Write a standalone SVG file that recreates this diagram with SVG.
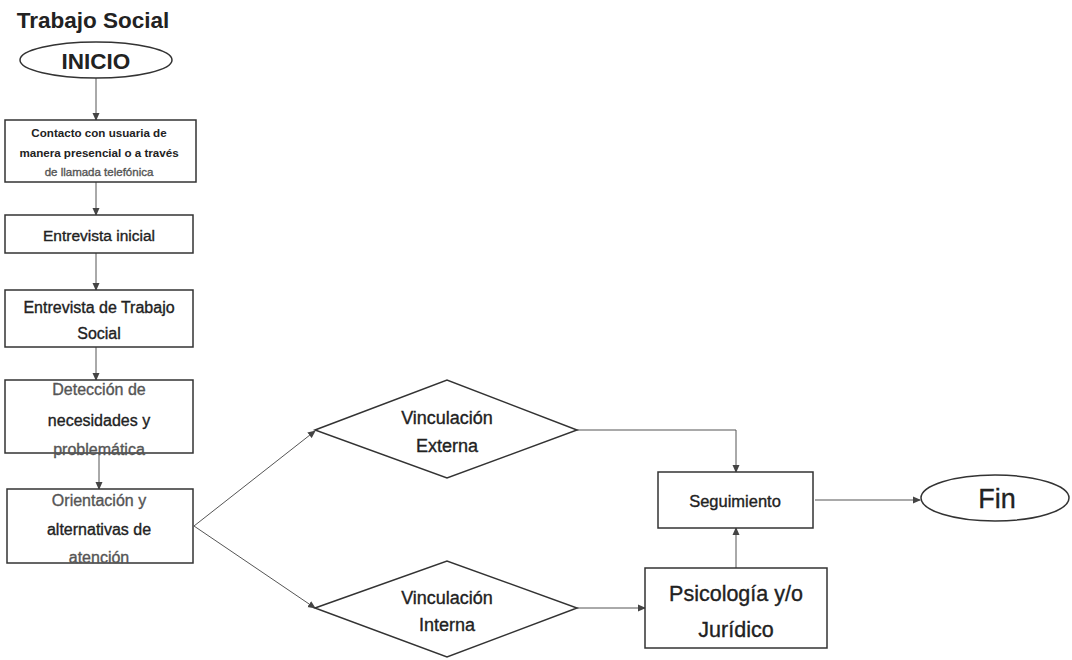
<svg xmlns="http://www.w3.org/2000/svg" width="1072" height="660" viewBox="0 0 1072 660">
<style>
.box{fill:#fff;stroke:#333;stroke-width:1.5}
.t{font-family:"Liberation Sans",Arial,sans-serif;fill:#222;text-anchor:middle;stroke:#222;stroke-width:0.35}
.b{font-weight:bold;stroke-width:0}
.g{fill:#555;stroke:#555}
.c{fill:none;stroke:#555;stroke-width:1}
</style>
<defs>
<marker id="ah" markerWidth="8" markerHeight="8" refX="7" refY="4" orient="auto" markerUnits="userSpaceOnUse">
<path d="M0,0.5 L8,4 L0,7.5 Z" fill="#444"/>
</marker>
</defs>
<rect width="1072" height="660" fill="#fff"/>
<text class="t b" x="93" y="28" font-size="22.5">Trabajo Social</text>
<g id="connectors">
<line class="c" x1="96" y1="78" x2="96" y2="120" marker-end="url(#ah)"/>
<line class="c" x1="96" y1="182" x2="96" y2="215" marker-end="url(#ah)"/>
<line class="c" x1="96" y1="253" x2="96" y2="290" marker-end="url(#ah)"/>
<line class="c" x1="96" y1="347" x2="96" y2="380" marker-end="url(#ah)"/>
<line class="c" x1="99" y1="453" x2="99" y2="489" marker-end="url(#ah)"/>
<line class="c" x1="194" y1="526" x2="315" y2="431" marker-end="url(#ah)"/>
<line class="c" x1="194" y1="526" x2="315" y2="608" marker-end="url(#ah)"/>
<polyline class="c" points="577,430 736,430 736,472" marker-end="url(#ah)"/>
<line class="c" x1="577" y1="608" x2="645" y2="608" marker-end="url(#ah)"/>
<line class="c" x1="736" y1="568" x2="736" y2="528" marker-end="url(#ah)"/>
<line class="c" x1="815" y1="500" x2="920" y2="500" marker-end="url(#ah)"/>
</g>
<g id="inicio">
<ellipse class="box" cx="96" cy="60" rx="76" ry="18"/>
<text class="t b" x="96" y="69" font-size="22.5">INICIO</text>
</g>
<g id="contacto">
<rect class="box" x="5" y="120" width="191" height="62"/>
<text class="t b" x="99" y="137" font-size="11.6">Contacto con usuaria  de</text>
<text class="t b" x="99" y="157" font-size="11.6">manera presencial o a través</text>
<text class="t g" x="99" y="176" font-size="11.5">de llamada telefónica</text>
</g>
<g id="entrevista-inicial">
<rect class="box" x="5" y="215" width="188" height="38"/>
<text class="t" x="99" y="241" font-size="15.5">Entrevista inicial</text>
</g>
<g id="entrevista-ts">
<rect class="box" x="5" y="290" width="188" height="57"/>
<text class="t" x="99" y="313" font-size="16">Entrevista de Trabajo</text>
<text class="t" x="99" y="339" font-size="16">Social</text>
</g>
<g id="deteccion">
<rect class="box" x="5" y="380" width="188" height="73"/>
<text class="t g" x="99" y="395" font-size="16">Detección de</text>
<text class="t" x="99" y="426" font-size="16">necesidades y</text>
<text class="t g" x="99" y="455" font-size="16">problemática</text>
</g>
<g id="orientacion">
<rect class="box" x="7" y="489" width="186" height="74"/>
<text class="t g" x="99" y="506" font-size="16">Orientación y</text>
<text class="t" x="99" y="535" font-size="16">alternativas de</text>
<text class="t g" x="99" y="563" font-size="16">atención</text>
</g>
<g id="vinc-externa">
<polygon class="box" points="315,430 447,380 577,430 447,478"/>
<text class="t" x="447" y="424" font-size="18">Vinculación</text>
<text class="t" x="447" y="452" font-size="18">Externa</text>
</g>
<g id="vinc-interna">
<polygon class="box" points="315,608 447,561 577,608 447,657"/>
<text class="t" x="447" y="604" font-size="18">Vinculación</text>
<text class="t" x="447" y="631" font-size="18">Interna</text>
</g>
<g id="seguimiento">
<rect class="box" x="658" y="472" width="155" height="56"/>
<text class="t" x="735" y="507" font-size="16.5">Seguimiento</text>
</g>
<g id="psicologia">
<rect class="box" x="645" y="568" width="182" height="80"/>
<text class="t" x="736" y="601" font-size="21.5">Psicología y/o</text>
<text class="t" x="736" y="637" font-size="21.5">Jurídico</text>
</g>
<g id="fin">
<ellipse class="box" cx="995" cy="498" rx="74" ry="23"/>
<text class="t" x="997" y="508" font-size="27">Fin</text>
</g>
</svg>
